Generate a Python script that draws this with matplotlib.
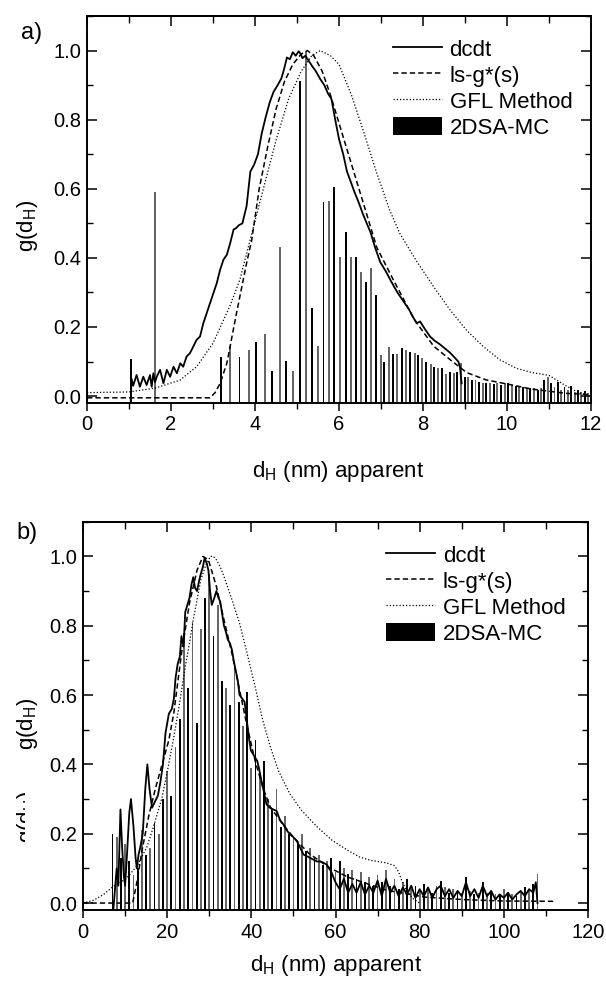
import numpy as np
import matplotlib
matplotlib.use("Agg")
import matplotlib.pyplot as plt
from matplotlib.ticker import MultipleLocator, FormatStrFormatter
from matplotlib.transforms import Bbox, TransformedBbox

plt.rcParams['font.family'] = ['Liberation Sans', 'DejaVu Sans']
plt.rcParams['mathtext.default'] = 'regular'

# ---------------- Panel a data ----------------
dcdt_a_x = [1.04, 1.06, 1.10, 1.18, 1.26, 1.34, 1.42, 1.50, 1.54, 1.58, 1.62, 1.66, 1.74, 1.82,
            1.90, 1.98, 2.06, 2.14, 2.22, 2.29, 2.37, 2.45, 2.53, 2.61, 2.69, 2.77, 2.85, 2.93,
            3.01, 3.09, 3.17, 3.25, 3.33, 3.41, 3.49, 3.55, 3.61, 3.70, 3.80, 3.89, 3.98, 4.07,
            4.16, 4.26, 4.35, 4.44, 4.54, 4.63, 4.70, 4.76, 4.83, 4.90, 4.97, 5.04, 5.09, 5.13,
            5.20, 5.27, 5.36, 5.45, 5.55, 5.65, 5.74, 5.82, 5.91, 6.00, 6.10, 6.19, 6.28, 6.37,
            6.47, 6.56, 6.66, 6.75, 6.86, 6.98, 7.12, 7.25, 7.39, 7.53, 7.67, 7.78, 7.85, 7.93,
            8.04, 8.17, 8.28, 8.40, 8.52, 8.64, 8.75, 8.84, 8.88, 8.90, 8.92]
dcdt_a_y = [-0.02, 0.05, 0.03, 0.061, 0.027, 0.056, 0.032, 0.061, 0.027, 0.066, 0.04, 0.056, 0.076, 0.037,
            0.076, 0.056, 0.085, 0.066, 0.095, 0.085, 0.114, 0.124, 0.143, 0.163, 0.172, 0.211, 0.24, 0.269,
            0.298, 0.327, 0.366, 0.395, 0.409, 0.443, 0.482, 0.486, 0.494, 0.50, 0.55, 0.65, 0.67, 0.70,
            0.76, 0.81, 0.85, 0.88, 0.90, 0.92, 0.95, 0.98, 0.975, 0.995, 0.985, 0.998, 0.99, 0.978,
            0.985, 0.972, 0.955, 0.94, 0.918, 0.90, 0.875, 0.86, 0.80, 0.744, 0.70, 0.65, 0.62, 0.59,
            0.56, 0.53, 0.50, 0.474, 0.43, 0.388, 0.36, 0.33, 0.30, 0.275, 0.25, 0.225, 0.211, 0.216,
            0.195, 0.172, 0.16, 0.15, 0.138, 0.126, 0.112, 0.10, 0.085, 0.06, 0.037]

lsg_a_x = [0, 2.93, 3.05, 3.17, 3.33, 3.56, 3.80, 3.92, 4.1, 4.3, 4.5, 4.7, 4.9, 5.1, 5.25, 5.4,
           5.6, 5.8, 6.0, 6.2, 6.4, 6.6, 6.9, 7.3, 7.8, 8.25, 8.65, 9.04, 9.5, 10.0, 10.6, 11.4, 12.0]
lsg_a_y = [-0.005, -0.005, 0.01, 0.037, 0.095, 0.24, 0.385, 0.45, 0.6, 0.72, 0.83, 0.91, 0.96, 0.99, 1.0, 0.985,
           0.94, 0.87, 0.79, 0.71, 0.63, 0.55, 0.43, 0.335, 0.22, 0.145, 0.105, 0.068, 0.047, 0.035, 0.02, 0.008, 0.004]

gfl_a_x = [0, 1.0, 1.62, 2.21, 2.61, 3.0, 3.4, 3.64, 3.9, 4.2, 4.5, 4.8, 5.1, 5.35, 5.55, 5.8, 6.0,
           6.3, 6.6, 6.9, 7.2, 7.45, 7.85, 8.25, 8.64, 9.04, 9.44, 9.83, 10.23, 10.6, 11.0, 11.4, 11.7, 12.0]
gfl_a_y = [0.01, 0.012, 0.023, 0.046, 0.085, 0.153, 0.26, 0.337, 0.46, 0.60, 0.74, 0.86, 0.94, 0.985, 1.0, 0.985, 0.96,
           0.87, 0.76, 0.645, 0.54, 0.47, 0.39, 0.317, 0.25, 0.19, 0.143, 0.105, 0.08, 0.068, 0.06, 0.03, 0.01, 0.0]

mc_a_x = [1.05, 1.61, 3.19, 3.40, 3.63, 3.85, 4.03, 4.23, 4.40, 4.59, 4.74, 4.91, 5.07, 5.22, 5.35, 5.49,
          5.63, 5.76, 5.89, 6.02, 6.16, 6.28, 6.41, 6.53, 6.65, 6.77, 6.88, 7.00, 7.08, 7.18, 7.28, 7.38,
          7.50, 7.60, 7.69, 7.80, 7.89, 7.98, 8.08, 8.18, 8.27, 8.36, 8.46, 8.55, 8.64, 8.73, 8.82, 8.90,
          8.99, 9.08, 9.16, 9.25, 9.34, 9.42, 9.51, 9.60, 9.69, 9.77, 9.86, 9.95, 10.03, 10.12, 10.21, 10.29,
          10.38, 10.47, 10.55, 10.64, 10.73, 10.81, 10.89, 10.97, 11.05, 11.13, 11.21, 11.29, 11.37, 11.45,
          11.53, 11.61, 11.69, 11.77, 11.85, 11.93]
mc_a_y = [0.107, 0.592, 0.112, 0.145, 0.114, 0.134, 0.156, 0.18, 0.073, 0.432, 0.102, 0.074, 0.913, 1.0, 0.256, 0.146,
          0.561, 0.566, 0.605, 0.402, 0.474, 0.402, 0.402, 0.358, 0.33, 0.37, 0.292, 0.119, 0.10, 0.143, 0.122, 0.122,
          0.14, 0.132, 0.127, 0.124, 0.119, 0.109, 0.10, 0.093, 0.085, 0.08, 0.08, 0.064, 0.07, 0.066, 0.07, 0.095,
          0.056, 0.056, 0.046, 0.046, 0.041, 0.038, 0.037, 0.037, 0.035, 0.037, 0.032, 0.038, 0.037, 0.032, 0.029, 0.027,
          0.027, 0.022, 0.022, 0.022, 0.017, 0.022, 0.046, 0.054, 0.037, 0.027, 0.041, 0.019, 0.027, 0.017,
          0.029, 0.012, 0.017, 0.012, 0.015, 0.008]

# ---------------- Panel b data ----------------
dcdt_b_x = [7.2, 7.6, 8.0, 8.4, 8.9, 9.3, 9.7, 10.0, 10.5, 11.0,
            11.4, 12.0, 12.5, 12.8, 13.2, 13.6, 14.2, 14.8, 15.3, 15.8,
            16.4, 17.2, 17.8, 18.4, 19.0, 19.6, 20.4, 21.1, 21.6, 22.0,
            22.5, 23.0, 23.4, 23.9, 24.3, 24.8, 25.3, 25.8, 26.2, 26.6,
            27.1, 27.6, 28.0, 28.5, 28.9, 29.4, 29.8, 30.2, 30.6, 31.2,
            31.7, 32.2, 32.6, 33.1, 33.5, 34.0, 34.4, 34.9, 35.4, 35.8,
            36.3, 36.8, 37.2, 37.8, 38.4, 39.0, 39.5, 39.9, 40.4, 40.9,
            41.4, 41.8, 42.4, 43.0, 43.6, 44.4, 45.2, 46.0, 46.8, 47.6,
            48.4, 49.2, 50.0, 50.8, 51.6, 52.4, 53.2, 54.0, 54.8, 55.6,
            56.4, 57.2, 58.0, 58.4, 59.0, 59.5,
            60, 61, 62, 63, 64, 65, 66, 67, 68, 69, 70, 71, 72, 73, 74, 75, 76, 77, 78, 79,
            80, 81, 82, 83, 84, 85, 86, 87, 88, 89, 90, 91, 92, 93, 94, 95, 96, 97, 98, 99,
            100, 101, 102, 103, 104, 105, 106, 107, 107.6, 108]
dcdt_b_y = [-0.02, 0.04, 0.10, 0.05, 0.27, 0.16, 0.08, 0.05, 0.15, 0.26,
            0.30, 0.22, 0.13, 0.10, 0.14, 0.16, 0.20, 0.33, 0.40, 0.33,
            0.275, 0.295, 0.31, 0.35, 0.40, 0.49, 0.546, 0.56, 0.59, 0.65,
            0.69, 0.71, 0.77, 0.74, 0.84, 0.86, 0.88, 0.92, 0.94, 0.91,
            0.90, 0.93, 0.95, 0.97, 0.995, 0.98, 0.96, 0.90, 0.86, 0.88,
            0.90, 0.88, 0.87, 0.83, 0.80, 0.78, 0.76, 0.75, 0.73, 0.70,
            0.67, 0.64, 0.60, 0.59, 0.58, 0.52, 0.47, 0.44, 0.43, 0.42,
            0.41, 0.39, 0.353, 0.32, 0.285, 0.275, 0.27, 0.266, 0.24, 0.227,
            0.21, 0.198, 0.19, 0.179, 0.16, 0.14, 0.135, 0.13, 0.125, 0.12,
            0.12, 0.116, 0.11, 0.101, 0.09, 0.075,
            0.06, 0.04, 0.07, 0.03, 0.055, 0.03, 0.06, 0.025, 0.05, 0.03, 0.065, 0.02, 0.07, 0.03, 0.05, 0.02, 0.045, 0.025, 0.05, 0.015,
            0.04, 0.02, 0.045, 0.015, 0.04, 0.05, 0.02, 0.04, 0.015, 0.035, 0.02, 0.06, 0.02, 0.04, 0.015, 0.05, 0.02, 0.035, 0.01, 0.025,
            0.015, 0.03, 0.01, 0.025, 0.035, 0.02, 0.04, 0.03, 0.06, 0.0]

lsg_b_x = [0, 11.8, 12.8, 14.0, 15.6, 17.2, 18.8, 20.4, 21.6, 23.4, 25.3, 27.1, 28.5, 29.8, 31.7, 33.5,
           35.4, 37.2, 39.0, 40.9, 42.7, 44.5, 47.3, 50.0, 53.7, 58.3, 62.9, 67.5, 72.1, 81.3, 90.4, 100, 112.2]
lsg_b_y = [0.0, 0.0, 0.06, 0.15, 0.25, 0.33, 0.40, 0.47, 0.55, 0.72, 0.865, 0.96, 1.0, 0.99, 0.913, 0.817,
           0.72, 0.615, 0.51, 0.41, 0.335, 0.277, 0.23, 0.19, 0.143, 0.104, 0.075, 0.056, 0.037, 0.017, 0.01, 0.006, 0.005]

gfl_b_x = [0, 2.5, 4.8, 7.2, 9.0, 10.6, 13.0, 15.2, 17.0, 18.8, 20.2, 21.6, 23.0, 24.3, 25.3, 26.2, 27.1,
           28.0, 29.2, 30.3, 31.0, 31.7, 32.6, 33.5, 35.4, 37.2, 39.0, 40.9, 42.7, 44.5, 46.4, 49.1, 51.9,
           55.6, 59.2, 62.9, 65.7, 68.4, 72.1, 74.0, 75.0, 75.8, 77.0, 78.5, 80]
gfl_b_y = [0.0, 0.008, 0.024, 0.048, 0.06, 0.075, 0.11, 0.162, 0.23, 0.306, 0.39, 0.48, 0.58, 0.682, 0.75, 0.817, 0.875,
           0.933, 0.975, 1.0, 1.0, 0.99, 0.97, 0.942, 0.875, 0.807, 0.72, 0.624, 0.528, 0.451, 0.383, 0.316, 0.268,
           0.22, 0.181, 0.152, 0.133, 0.123, 0.116, 0.108, 0.09, 0.063, 0.034, 0.012, 0.0]

mc_b_x = [7, 8, 9, 10, 11, 12, 13, 14, 15, 16, 17, 18, 19, 20, 21, 22, 23, 24, 25, 26,
          27, 28, 29, 30, 31, 32, 33, 34, 35, 36, 37, 38, 39, 40, 41, 42, 43, 44, 45, 46,
          47, 48, 49, 50, 51, 52, 53, 54, 55, 56, 57, 58, 59, 60, 61, 62, 63, 64, 65, 66,
          67, 68, 69, 70, 71, 72, 73, 74, 75, 76, 77, 78, 79, 80, 81, 82, 83, 84, 85, 86,
          87, 88, 89, 90, 91, 92, 93, 94, 95, 96, 97, 98, 99, 100, 101, 102, 103, 104, 105, 106,
          107, 108]
mc_b_y = [0.20, 0.19, 0.13, 0.17, 0.12, 0.08, 0.10, 0.21, 0.14, 0.16, 0.23, 0.20, 0.30, 0.38, 0.31, 0.45, 0.53, 0.78, 0.62, 0.81,
          0.52, 0.79, 0.88, 0.95, 0.77, 0.86, 0.64, 0.62, 0.57, 0.69, 0.58, 0.51, 0.61, 0.39, 0.47, 0.37, 0.41, 0.30, 0.27, 0.33,
          0.22, 0.25, 0.20, 0.19, 0.17, 0.20, 0.15, 0.16, 0.13, 0.14, 0.11, 0.12, 0.13, 0.09, 0.12, 0.10, 0.085, 0.095, 0.07, 0.09,
          0.06, 0.075, 0.05, 0.08, 0.06, 0.095, 0.05, 0.07, 0.04, 0.06, 0.07, 0.04, 0.05, 0.035, 0.055, 0.045, 0.03, 0.05, 0.065, 0.045,
          0.03, 0.04, 0.035, 0.03, 0.075, 0.035, 0.025, 0.03, 0.06, 0.03, 0.035, 0.025, 0.02, 0.04, 0.03, 0.025, 0.02, 0.035, 0.045, 0.04,
          0.055, 0.085]

legend_labels = ['dcdt', 'ls-g*(s)', 'GFL Method', '2DSA-MC']
YMIN, YMAX = -0.02, 1.1

W, H = 606, 983
fig = plt.figure(figsize=(W / 100, H / 100), dpi=100)


def make_panel(rect, xlim, xmajor, xminor, mc_x, mc_y, bar_w, dcdt_x, dcdt_y,
               lsg_x, lsg_y, gfl_x, gfl_y, leg_anchor):
    ax = fig.add_axes(rect)
    colors = ['black' if (i % 2 == 0) else '0.4' for i in range(len(mc_x))]
    mc_h = [v - YMIN for v in mc_y]
    bars = ax.bar(mc_x, mc_h, bottom=YMIN, width=bar_w, color=colors,
                  linewidth=0, label=legend_labels[3], zorder=1)
    l1, = ax.plot(dcdt_x, dcdt_y, '-', color='black', lw=1.3, label=legend_labels[0], zorder=3)
    l2, = ax.plot(lsg_x, lsg_y, color='black', lw=1.1, ls=(0, (3.5, 2.0)), label=legend_labels[1], zorder=3)
    l3, = ax.plot(gfl_x, gfl_y, color='black', lw=0.9, ls=(0, (1.0, 1.6)), label=legend_labels[2], zorder=3)
    ax.set_xlim(*xlim)
    ax.set_ylim(YMIN, YMAX)
    ax.xaxis.set_major_locator(MultipleLocator(xmajor))
    ax.xaxis.set_minor_locator(MultipleLocator(xminor))
    ax.yaxis.set_major_locator(MultipleLocator(0.2))
    ax.yaxis.set_minor_locator(MultipleLocator(0.1))
    ax.yaxis.set_major_formatter(FormatStrFormatter('%.1f'))
    ax.tick_params(axis='x', which='both', direction='out', top=False, labelsize=14.5, pad=3)
    ax.tick_params(axis='x', which='major', length=6, width=1.1)
    ax.tick_params(axis='x', which='minor', length=4, width=1.0)
    ax.tick_params(axis='y', which='both', direction='in', left=True, right=True, labelsize=14.5, pad=4)
    ax.tick_params(axis='y', which='major', length=7, width=1.1)
    ax.tick_params(axis='y', which='minor', length=4, width=1.0)
    sec = ax.secondary_xaxis('top')
    sec.xaxis.set_major_locator(MultipleLocator(xmajor))
    sec.xaxis.set_minor_locator(MultipleLocator(xminor))
    sec.tick_params(axis='x', which='both', direction='in', labeltop=False)
    sec.tick_params(axis='x', which='major', length=7, width=1.1)
    sec.tick_params(axis='x', which='minor', length=5, width=1.0)
    for s in ax.spines.values():
        s.set_linewidth(1.4)
    sec.spines['top'].set_linewidth(1.4)
    ax.legend(handles=[l1, l2, l3, bars], labels=legend_labels, loc='upper left',
              bbox_to_anchor=leg_anchor, frameon=False, fontsize=16, handlelength=2.2,
              handletextpad=0.35, labelspacing=0.2, borderpad=0, borderaxespad=0,
              handleheight=0.85)
    return ax


ax_a = make_panel([87 / W, 1 - 403 / H, (591 - 87) / W, (403 - 16) / H], (0, 12), 2, 1,
                  mc_a_x, mc_a_y, 0.045, dcdt_a_x, dcdt_a_y, lsg_a_x, lsg_a_y,
                  gfl_a_x, gfl_a_y, (0.607, 0.94))
ax_b = make_panel([83 / W, 1 - 910 / H, (588 - 83) / W, (910 - 521.7) / H], (0, 120), 20, 10,
                  mc_b_x, mc_b_y, 0.42, dcdt_b_x, dcdt_b_y, lsg_b_x, lsg_b_y,
                  gfl_b_x, gfl_b_y, (0.600, 0.94))

# axis labels
fig.text(338 / W, 1 - 472 / H, 'd$_H$ (nm) apparent', ha='center', va='center', fontsize=16)
fig.text(336 / W, 1 - 966 / H, 'd$_H$ (nm) apparent', ha='center', va='center', fontsize=16)
fig.text(27 / W, 1 - 226 / H, 'g(d$_H$)', rotation=90, ha='center', va='center', fontsize=16)
fig.text(27 / W, 1 - 724 / H, 'g(d$_H$)', rotation=90, ha='center', va='center', fontsize=16)
# partially hidden duplicate label seen in panel b
tp = fig.text(27 / W, 1 - 817 / H, 'g(d$_H$)', rotation=90, ha='center', va='center', fontsize=16)
tp.set_clip_box(TransformedBbox(Bbox([[0, 0], [25 / W, 1]]), fig.transFigure))
tp.set_clip_on(True)

fig.text(32 / W, 1 - 33 / H, 'a)', ha='center', va='center', fontsize=17)
fig.text(27 / W, 1 - 533 / H, 'b)', ha='center', va='center', fontsize=17)

fig.savefig('out.png', dpi=100, facecolor='white')
